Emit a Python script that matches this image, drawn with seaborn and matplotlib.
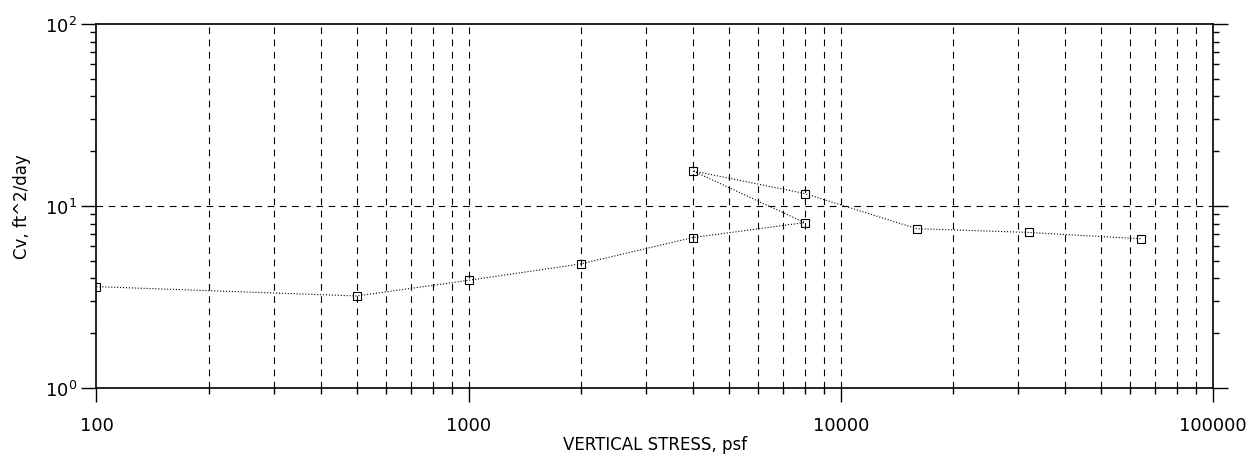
import numpy as np
import pandas as pd
import matplotlib
matplotlib.use("Agg")
import matplotlib.pyplot as plt
import seaborn as sns
from matplotlib.ticker import LogLocator, NullFormatter, FixedLocator, FixedFormatter

# données (ordre du chargement)
contrainte = [100, 500, 1000, 2000, 4000, 8000, 4000, 8000, 16000, 32000, 64000]
cv = [3.6, 3.2, 3.9, 4.8, 6.7, 8.1, 15.6, 11.7, 7.5, 7.15, 6.6]
ordre = list(range(len(contrainte)))

x_ticks = [100, 1000, 10000, 100000]
x_labels = ["100", "1000", "10000", "100000"]

df = pd.DataFrame({"stress": contrainte, "cv": cv, "step": ordre})

sns.set_style("white")
plt.rcParams["font.family"] = ["DejaVu Sans"]
plt.rcParams["text.color"] = "black"
plt.rcParams["axes.labelcolor"] = "black"
plt.rcParams["xtick.color"] = "black"
plt.rcParams["ytick.color"] = "black"

fig = plt.figure(figsize=(12.53, 4.64), dpi=100)
ax = fig.add_axes([0.077, 0.162, 0.891, 0.784])

ax.set_xscale("log")
ax.set_yscale("log")
ax.set_xlim(100, 100000)
ax.set_ylim(1, 100)

# grille pointillée
for dec in [100, 1000, 10000]:
    for k in range(2, 11):
        v = dec * k
        if v < 100000:
            ax.axvline(v, color="black", lw=0.8, ls=(0, (6, 5)), zorder=1)
ax.axhline(10, color="black", lw=0.8, ls=(0, (6, 5)), zorder=1)

sns.lineplot(data=df, x="stress", y="cv", sort=False, estimator=None, ax=ax,
             color="black", lw=0.8, ls=":", marker="s", markersize=6,
             markerfacecolor="none", markeredgecolor="black",
             markeredgewidth=0.8, zorder=3)

ax.xaxis.set_major_locator(FixedLocator(x_ticks))
ax.xaxis.set_major_formatter(FixedFormatter(x_labels))
ax.xaxis.set_minor_locator(LogLocator(base=10, subs=np.arange(2, 10)))
ax.xaxis.set_minor_formatter(NullFormatter())
ax.yaxis.set_major_locator(LogLocator(base=10, numticks=5))
ax.yaxis.set_minor_locator(LogLocator(base=10, subs=np.arange(2, 10)))
ax.yaxis.set_minor_formatter(NullFormatter())

ax.tick_params(which="both", direction="out", color="black", width=1,
               left=True, bottom=True, right=True)
ax.tick_params(axis="x", which="major", length=10, labelsize=13, pad=10)
ax.tick_params(axis="y", which="major", length=11, labelsize=13, pad=3)
ax.tick_params(which="minor", length=4)

for s in ax.spines.values():
    s.set_color("black")
    s.set_linewidth(1.2)

ax.set_xlabel("VERTICAL STRESS, psf", fontsize=12, labelpad=1)
ax.set_ylabel("Cv, ft^2/day", fontsize=12, labelpad=10)

fig.savefig("out.png", dpi=100, facecolor="white")
